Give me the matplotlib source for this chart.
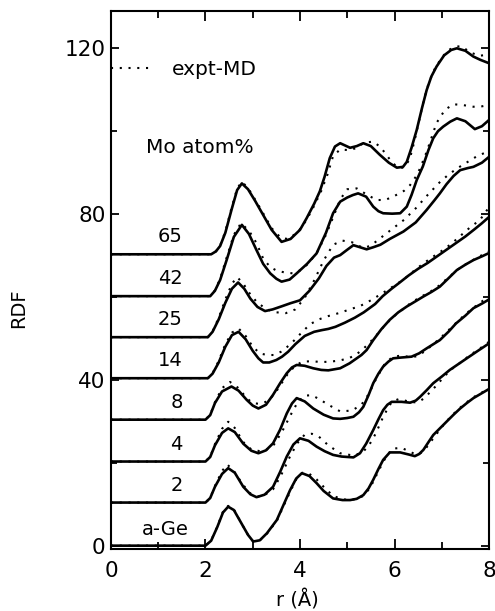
import matplotlib
matplotlib.use('Agg')
import matplotlib.pyplot as plt
from matplotlib.lines import Line2D
from matplotlib.ticker import MultipleLocator

# Mo atom% labels and baseline of each shifted curve
etiquetas = ['a-Ge', '2', '4', '8', '14', '25', '42', '65']
bases = [0, 10.4, 20.3, 30.4, 40.4, 50.3, 60.2, 70.3]

# --- a-Ge ---
r_md_ge = [0, 2.0, 2.12, 2.25, 2.37, 2.48, 2.6, 2.75, 2.9, 3.01, 3.15, 3.3, 3.51, 3.65, 3.79, 3.92, 4.04, 4.2, 4.35,
           4.5, 4.7, 4.9, 5.06, 5.2, 5.34, 5.45, 5.55, 5.66, 5.76, 5.9, 6.12, 6.3, 6.43, 6.52, 6.61, 6.72, 6.82,
           6.96, 7.1, 7.25, 7.39, 7.53, 7.67, 7.82, 8.0]
rdf_md_ge = [0, 0, 1.2, 4.5, 8.0, 9.4, 8.6, 5.6, 2.6, 1.0, 1.3, 3.0, 6.2, 9.8, 13.4, 16.2, 17.5, 16.8, 15.1,
             13.2, 11.4, 11.0, 11.0, 11.3, 12.2, 13.8, 15.9, 18.5, 20.7, 22.5, 22.5, 22.0, 21.6, 22.1, 23.1, 25.0,
             26.7, 28.3, 29.9, 31.6, 33.1, 34.4, 35.6, 36.6, 37.8]
r_ex_ge = [0, 2.0, 2.12, 2.25, 2.37, 2.48, 2.6, 2.75, 2.9, 3.01, 3.15, 3.3, 3.51, 3.65, 3.79, 3.92, 4.06, 4.2, 4.35,
           4.5, 4.7, 4.9, 5.06, 5.2, 5.34, 5.45, 5.55, 5.66, 5.78, 5.95, 6.15, 6.3, 6.45, 6.55, 6.65, 6.75, 6.86,
           6.98, 7.1, 7.25, 7.39, 7.53, 7.67, 7.82, 8.0]
rdf_ex_ge = [0, 0, 1.3, 4.6, 8.2, 9.6, 8.8, 5.6, 2.6, 1.0, 1.3, 2.9, 6.0, 9.5, 13.0, 16.0, 17.6, 17.3, 16.0,
             14.2, 12.0, 11.2, 11.0, 11.3, 12.0, 13.5, 15.4, 18.0, 20.6, 23.4, 23.6, 22.8, 22.0, 22.3, 23.3, 24.8,
             26.5, 28.3, 30.0, 31.8, 33.3, 34.6, 35.8, 36.8, 37.8]

# --- 2 % ---
r_md_2 = [0, 2.0, 2.1, 2.2, 2.35, 2.48, 2.62, 2.8, 2.95, 3.08, 3.25, 3.43, 3.58, 3.72, 3.86, 4.0, 4.18, 4.35, 4.52,
          4.7, 4.88, 5.13, 5.27, 5.4, 5.55, 5.66, 5.76, 5.85, 5.94, 6.15, 6.33, 6.45, 6.54, 6.68, 6.82, 7.0, 7.17,
          7.35, 7.53, 7.75, 8.0]
rdf_md_2 = [10.4, 10.4, 11.5, 14.2, 17.3, 18.7, 17.6, 14.2, 12.4, 11.7, 12.3, 14.2, 17.8, 21.5, 24.4, 25.9, 25.3,
            23.9, 22.8, 21.9, 21.5, 21.3, 22.3, 24.6, 27.9, 30.5, 32.7, 34.0, 34.7, 34.7, 34.5, 35.0, 35.9, 37.5,
            39.2, 40.8, 42.4, 43.8, 45.2, 46.9, 48.8]
r_ex_2 = [0, 2.0, 2.1, 2.2, 2.35, 2.46, 2.6, 2.8, 2.95, 3.1, 3.25, 3.43, 3.6, 3.8, 3.95, 4.1, 4.25, 4.4, 4.6, 4.85,
          5.1, 5.3, 5.45, 5.6, 5.75, 5.85, 5.95, 6.1, 6.35, 6.5, 6.62, 6.75, 6.9, 7.05, 7.2, 7.4, 7.6, 7.8, 8.0]
rdf_ex_2 = [10.4, 10.4, 11.5, 14.4, 18.0, 19.6, 18.0, 14.6, 12.6, 11.8, 12.2, 13.6, 17.0, 21.8, 24.8, 26.8, 27.0,
            26.3, 24.2, 22.3, 21.8, 22.3, 24.0, 27.0, 30.8, 33.0, 34.8, 35.4, 34.6, 34.6, 35.5, 37.0, 38.8, 40.8,
            42.5, 44.2, 46.0, 47.5, 49.2]

# --- 4 % ---
r_md_4 = [0, 2.0, 2.1, 2.2, 2.35, 2.48, 2.62, 2.8, 2.97, 3.12, 3.28, 3.43, 3.58, 3.72, 3.83, 3.93, 4.1, 4.28, 4.5,
          4.7, 4.85, 5.0, 5.13, 5.25, 5.34, 5.45, 5.55, 5.66, 5.76, 5.87, 5.97, 6.15, 6.36, 6.52, 6.68, 6.82, 6.96,
          7.15, 7.3, 7.5, 7.67, 7.85, 8.0]
rdf_md_4 = [20.3, 20.3, 21.4, 24.2, 27.2, 28.3, 27.4, 24.6, 22.9, 22.3, 23.0, 24.7, 28.0, 31.9, 34.3, 35.6, 34.8,
            33.1, 31.6, 30.7, 30.6, 30.8, 31.1, 32.2, 33.5, 36.3, 39.2, 41.5, 43.2, 44.4, 45.2, 45.4, 45.6, 46.4,
            47.6, 48.6, 49.6, 51.7, 53.6, 55.5, 57.3, 58.4, 59.4]
r_ex_4 = [0, 2.0, 2.1, 2.2, 2.35, 2.48, 2.62, 2.8, 2.97, 3.15, 3.3, 3.45, 3.62, 3.8, 3.95, 4.1, 4.25, 4.4, 4.6, 4.85,
          5.1, 5.3, 5.45, 5.6, 5.78, 5.95, 6.15, 6.35, 6.5, 6.65, 6.8, 6.98, 7.2, 7.4, 7.6, 7.8, 8.0]
rdf_ex_4 = [20.3, 20.3, 21.5, 24.5, 28.2, 29.9, 28.4, 25.0, 23.2, 22.8, 23.2, 24.4, 27.5, 31.5, 34.6, 36.2, 36.3,
            35.4, 34.0, 32.4, 32.6, 34.0, 36.5, 40.0, 43.6, 45.5, 45.9, 45.4, 45.8, 47.0, 48.4, 50.2, 52.6, 54.8,
            56.8, 58.5, 60.2]

# --- 8 % ---
r_md_8 = [0, 2.0, 2.1, 2.2, 2.35, 2.55, 2.7, 2.87, 3.0, 3.12, 3.28, 3.43, 3.58, 3.72, 3.83, 3.93, 4.1, 4.28, 4.45,
          4.6, 4.85, 5.05, 5.2, 5.3, 5.41, 5.55, 5.72, 5.9, 6.08, 6.26, 6.45, 6.61, 6.78, 6.96, 7.15, 7.32, 7.5,
          7.67, 7.85, 8.0]
rdf_md_8 = [30.4, 30.4, 31.5, 34.4, 37.2, 38.4, 37.4, 35.2, 33.8, 33.1, 34.0, 36.4, 39.2, 41.6, 43.0, 43.6, 43.4,
            42.8, 42.4, 42.3, 42.8, 44.0, 45.2, 46.0, 47.2, 49.6, 52.2, 54.5, 56.3, 57.7, 59.0, 60.1, 61.2, 62.5,
            64.6, 66.5, 67.8, 68.9, 69.8, 70.6]
r_ex_8 = [0, 2.0, 2.1, 2.2, 2.35, 2.52, 2.7, 2.87, 3.0, 3.15, 3.3, 3.45, 3.6, 3.75, 3.9, 4.05, 4.25, 4.45, 4.65,
          4.85, 5.05, 5.2, 5.35, 5.5, 5.65, 5.8, 5.95, 6.15, 6.35, 6.55, 6.75, 6.95, 7.15, 7.35, 7.55, 7.8, 8.0]
rdf_ex_8 = [30.4, 30.4, 31.6, 34.6, 38.0, 39.5, 38.0, 35.6, 34.4, 34.2, 34.8, 36.4, 39.0, 41.6, 43.4, 44.4, 44.5,
            44.3, 44.4, 44.7, 45.3, 46.2, 47.6, 49.3, 51.2, 53.2, 55.0, 56.8, 58.6, 60.0, 61.2, 62.8, 64.8, 66.7,
            68.2, 69.8, 71.0]

# --- 14 % ---
r_md_14 = [0, 2.05, 2.15, 2.28, 2.42, 2.56, 2.7, 2.85, 3.0, 3.12, 3.22, 3.35, 3.5, 3.62, 3.75, 3.9, 4.1, 4.3, 4.46,
           4.6, 4.75, 4.95, 5.16, 5.35, 5.59, 5.75, 5.94, 6.1, 6.3, 6.5, 6.7, 6.9, 7.1, 7.3, 7.5, 7.7, 7.85, 8.0]
rdf_md_14 = [40.4, 40.4, 41.5, 44.2, 48.0, 50.8, 51.6, 49.8, 47.0, 45.2, 44.2, 44.2, 44.8, 45.6, 46.8, 48.6, 50.6,
             51.6, 52.0, 52.3, 52.8, 53.8, 55.0, 56.3, 58.3, 60.2, 62.0, 63.4, 65.2, 66.8, 68.2, 69.8, 71.4, 73.0,
             74.6, 76.4, 77.8, 79.3]
r_ex_14 = [0, 2.05, 2.15, 2.28, 2.42, 2.56, 2.7, 2.85, 3.0, 3.15, 3.3, 3.45, 3.6, 3.8, 4.0, 4.21, 4.4, 4.6, 4.85,
           5.05, 5.27, 5.5, 5.7, 5.95, 6.19, 6.4, 6.6, 6.8, 6.96, 7.2, 7.4, 7.6, 7.81, 7.92, 8.0]
rdf_ex_14 = [40.4, 40.4, 41.6, 44.6, 48.6, 51.4, 52.4, 50.6, 48.0, 46.4, 46.0, 46.0, 46.8, 48.6, 51.0, 53.4, 54.6,
             55.4, 56.2, 57.0, 57.8, 59.2, 60.6, 62.4, 64.2, 66.2, 68.0, 69.6, 70.8, 72.8, 74.8, 76.8, 78.6, 80.4,
             81.6]

# --- 25 % ---
r_md_25 = [0, 2.05, 2.15, 2.28, 2.42, 2.56, 2.69, 2.82, 2.95, 3.1, 3.26, 3.42, 3.6, 3.8, 4.0, 4.2, 4.4, 4.56, 4.72,
           4.85, 5.0, 5.13, 5.27, 5.41, 5.55, 5.7, 5.9, 6.19, 6.45, 6.68, 6.85, 6.96, 7.1, 7.25, 7.39, 7.55, 7.67,
           7.85, 8.0]
rdf_md_25 = [50.3, 50.3, 51.6, 54.6, 58.6, 62.0, 63.5, 62.0, 59.6, 57.6, 56.6, 57.0, 57.7, 58.5, 59.2, 61.5, 64.5,
             67.5, 69.5, 70.1, 71.4, 72.5, 72.0, 71.5, 72.0, 72.6, 74.0, 75.8, 78.0, 81.0, 83.4, 85.0, 87.2, 89.2,
             90.6, 91.1, 91.4, 92.4, 93.8]
r_ex_25 = [0, 2.05, 2.15, 2.28, 2.42, 2.56, 2.67, 2.8, 2.95, 3.1, 3.3, 3.5, 3.7, 3.9, 4.1, 4.3, 4.5, 4.7, 4.9, 5.1,
           5.34, 5.5, 5.7, 5.95, 6.2, 6.45, 6.7, 6.95, 7.15, 7.35, 7.55, 7.75, 8.0]
rdf_ex_25 = [50.3, 50.3, 51.7, 55.0, 59.4, 63.2, 64.8, 63.2, 60.6, 58.6, 57.0, 56.3, 56.1, 57.0, 59.8, 64.0, 68.8,
             72.6, 73.6, 73.2, 71.8, 72.4, 74.2, 76.4, 78.6, 81.4, 84.6, 87.6, 89.6, 91.2, 92.6, 94.0, 95.2]

# --- 42 % ---
r_md_42 = [0, 2.1, 2.2, 2.31, 2.45, 2.6, 2.77, 2.92, 3.08, 3.22, 3.37, 3.5, 3.61, 3.78, 3.93, 4.15, 4.35, 4.55, 4.7,
           4.85, 5.0, 5.12, 5.23, 5.4, 5.55, 5.66, 5.76, 5.95, 6.12, 6.26, 6.36, 6.47, 6.6, 6.72, 6.82, 6.92, 7.03,
           7.18, 7.32, 7.5, 7.7, 7.85, 8.0]
rdf_md_42 = [60.2, 60.2, 61.5, 64.1, 69.0, 74.5, 77.4, 75.2, 71.3, 68.0, 65.7, 64.4, 63.7, 64.2, 65.7, 68.0, 70.5,
             75.5, 80.2, 83.0, 84.0, 84.6, 85.0, 84.2, 81.8, 80.7, 80.2, 80.1, 80.2, 81.8, 84.6, 88.2, 91.5, 95.5,
             98.3, 100.0, 101.1, 102.3, 103.1, 102.4, 100.5, 101.2, 102.7]
r_ex_42 = [0, 2.1, 2.2, 2.31, 2.45, 2.6, 2.75, 2.92, 3.08, 3.22, 3.37, 3.5, 3.68, 3.85, 4.0, 4.15, 4.35, 4.55, 4.7,
           4.85, 5.0, 5.2, 5.4, 5.62, 5.8, 5.97, 6.2, 6.33, 6.45, 6.54, 6.68, 6.8, 6.89, 7.07, 7.25, 7.45, 7.67,
           7.85, 8.0]
rdf_ex_42 = [60.2, 60.2, 61.6, 64.4, 69.6, 75.0, 77.8, 76.0, 73.0, 69.3, 67.2, 66.4, 65.9, 65.7, 66.4, 67.8, 70.5,
             75.0, 79.2, 83.5, 86.0, 86.2, 84.8, 83.4, 83.4, 84.2, 85.6, 87.0, 89.0, 91.0, 95.0, 99.0, 102.0, 105.2,
             106.5, 106.3, 105.9, 106.0, 106.3]

# --- 65 % ---
r_md_65 = [0, 2.12, 2.22, 2.31, 2.42, 2.55, 2.67, 2.77, 2.9, 3.05, 3.2, 3.4, 3.61, 3.8, 4.0, 4.14, 4.3, 4.42, 4.52,
           4.63, 4.74, 4.85, 5.06, 5.2, 5.34, 5.5, 5.69, 5.88, 6.05, 6.18, 6.26, 6.36, 6.47, 6.58, 6.68, 6.78, 6.89,
           7.05, 7.2, 7.32, 7.5, 7.67, 7.82, 8.0]
rdf_md_65 = [70.3, 70.3, 71.0, 72.3, 75.5, 81.0, 85.8, 87.4, 86.0, 83.2, 80.2, 76.2, 73.3, 74.0, 76.2, 79.0, 82.5,
             85.5, 89.0, 93.5, 96.3, 97.1, 96.0, 96.4, 97.1, 96.4, 94.3, 92.4, 91.2, 91.4, 92.6, 96.0, 100.3, 105.5,
             109.9, 113.2, 115.6, 118.3, 119.6, 120.0, 119.4, 118.0, 117.2, 116.4]
r_ex_65 = [0, 2.12, 2.22, 2.31, 2.42, 2.55, 2.67, 2.77, 2.9, 3.05, 3.2, 3.4, 3.6, 3.75, 3.95, 4.14, 4.3, 4.45, 4.58,
           4.7, 4.85, 5.06, 5.2, 5.35, 5.55, 5.7, 5.83, 5.95, 6.08, 6.2, 6.32, 6.42, 6.52, 6.62, 6.72, 6.85, 7.0,
           7.15, 7.28, 7.42, 7.6, 7.8, 8.0]
rdf_ex_65 = [70.3, 70.3, 71.0, 72.4, 75.8, 81.4, 86.2, 87.8, 86.3, 83.5, 80.6, 76.6, 74.2, 74.0, 75.6, 78.6, 82.0,
             85.6, 89.5, 94.0, 95.6, 95.4, 96.0, 97.2, 97.5, 96.2, 94.3, 92.4, 91.2, 91.2, 93.2, 97.5, 102.5, 107.5,
             111.5, 115.0, 117.8, 119.6, 120.4, 120.5, 119.0, 118.2, 118.5]

curvas_md = [(r_md_ge, rdf_md_ge), (r_md_2, rdf_md_2), (r_md_4, rdf_md_4), (r_md_8, rdf_md_8),
             (r_md_14, rdf_md_14), (r_md_25, rdf_md_25), (r_md_42, rdf_md_42), (r_md_65, rdf_md_65)]
curvas_ex = [(r_ex_ge, rdf_ex_ge), (r_ex_2, rdf_ex_2), (r_ex_4, rdf_ex_4), (r_ex_8, rdf_ex_8),
             (r_ex_14, rdf_ex_14), (r_ex_25, rdf_ex_25), (r_ex_42, rdf_ex_42), (r_ex_65, rdf_ex_65)]

plt.rcParams['font.family'] = 'DejaVu Sans'

fig = plt.figure(figsize=(4.95, 6.11), dpi=100)
ax = fig.add_axes([0.2242, 0.1015, 0.7637, 0.8805])

for (r, g), (re, ge) in zip(curvas_md, curvas_ex):
    # expt (dotted) under the MD curve (solid)
    ax.plot(re, ge, color='black', lw=1.5, ls=(0, (1, 3.2)), zorder=2)
    ax.plot(r, g, color='black', lw=1.9, zorder=3)

for lab, b in zip(etiquetas, bases):
    if lab == 'a-Ge':
        ax.text(1.15, b + 3.8, lab, ha='center', va='center', fontsize=14)
    else:
        ax.text(1.52, b + 4.2, lab, ha='right', va='center', fontsize=14)

ax.text(1.88, 96.0, 'Mo atom%', ha='center', va='center', fontsize=14.5)

leg = ax.legend(handles=[Line2D([], [], color='black', lw=1.5, ls=(0, (1, 3.2)))], labels=['expt-MD'],
                loc='center left', bbox_to_anchor=(0.0, (114.8 + 0.8) / 129.8), frameon=False,
                handlelength=2.0, handletextpad=1.0, borderaxespad=0, borderpad=0, fontsize=14.5)

ax.set_xlim(0, 8)
ax.set_ylim(-0.8, 129)
ax.xaxis.set_major_locator(MultipleLocator(2))
ax.xaxis.set_minor_locator(MultipleLocator(1))
ax.yaxis.set_major_locator(MultipleLocator(40))
ax.yaxis.set_minor_locator(MultipleLocator(20))
ax.tick_params(which='both', direction='in', top=True, right=True, width=1.3, labelsize=15.5)
ax.tick_params(axis='x', which='major', length=7, pad=9)
ax.tick_params(axis='x', which='minor', length=5)
ax.tick_params(axis='y', which='major', length=6, pad=4)
ax.tick_params(axis='y', which='minor', length=4)
for s in ax.spines.values():
    s.set_linewidth(1.5)

fig.text(18.5 / 495, 1 - 308 / 611, 'RDF', rotation=90, ha='center', va='center', fontsize=14)
fig.text(297 / 495, 1 - 600 / 611, 'r (Å)', ha='center', va='center', fontsize=14)

fig.savefig('out.png', dpi=100)
